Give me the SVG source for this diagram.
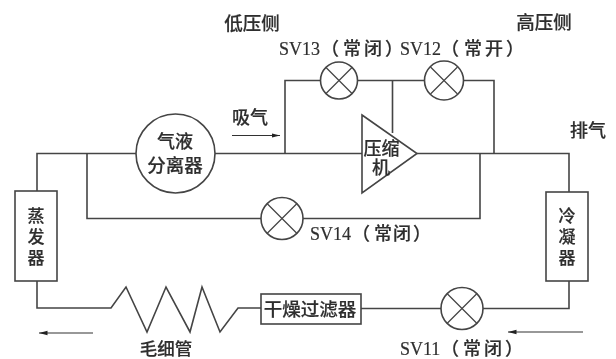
<svg xmlns="http://www.w3.org/2000/svg" width="616" height="359" viewBox="0 0 616 359">
<style>
text{font-family:"Liberation Serif","Noto Sans CJK SC",serif;fill:#2e2e2e;font-size:18px;font-weight:500;stroke:#2e2e2e;stroke-width:0.2}
.c{font-family:"Noto Sans CJK SC","Liberation Serif",sans-serif;text-anchor:middle}
.v{font-family:"Noto Sans CJK SC",sans-serif;font-size:17px;writing-mode:vertical-rl;letter-spacing:4px}
.l{fill:none;stroke:#444;stroke-width:1.6;stroke-linejoin:miter}
.s{fill:#fff;stroke:#444;stroke-width:1.6}
.x{fill:none;stroke:#444;stroke-width:1.2}
.a{fill:none;stroke:#333;stroke-width:1.2}
</style>
<defs>
<marker id="h" markerWidth="10" markerHeight="7" refX="8.500" refY="3" orient="auto" markerUnits="userSpaceOnUse"><path d="M0 0.800L8.500 3L0 5.200Z" fill="#222"/></marker>
<filter id="b" x="-5%" y="-5%" width="110%" height="110%"><feGaussianBlur stdDeviation="0.45"/></filter>
</defs>
<rect width="616" height="359" fill="#fff"/>
<g filter="url(#b)">
<g id="connectors">
<path class="l" d="M37 191V153.500H136M215 153.500H362M417 153.500H569V192"/>
<path class="l" d="M37 281V308H111L126 287L147 332L166 287L190 332L202 287L220 332L238 308H261"/>
<path class="l" d="M361 308.500H441M483 308.500H569V281"/>
<path class="l" d="M87 153.500V218.500H261M303 218.500H480V153.500"/>
<path class="l" d="M285 153.500V80.500H320M358 80.500H424M464 80.500H494V153.500M392.500 80.500V133"/>
<path class="a" d="M232 135.500H280" marker-end="url(#h)"/>
<path class="a" d="M93 333H39" marker-end="url(#h)"/>
<path class="a" d="M583 332H508" marker-end="url(#h)"/>
</g>
<g id="evaporator"><rect class="s" x="15" y="191" width="42" height="90"/><text class="v" x="36" y="207">蒸发器</text></g>
<g id="separator"><circle class="s" cx="175.500" cy="153.500" r="39.500"/><text class="c" x="175" y="148">气液</text><text class="c" x="175" y="172" style="font-size:18.500px">分离器</text></g>
<g id="compressor"><path class="s" d="M362 115L417 153.500L362 193Z"/><text class="c" x="381.500" y="155">压缩<tspan x="381" dy="19">机</tspan></text></g>
<g id="sv13"><circle class="s" cx="339" cy="80.500" r="18.500"/><path class="x" d="M326 67.500L352 93.500M352 67.500L326 93.500"/></g>
<g id="sv12"><circle class="s" cx="444" cy="80.500" r="19.500"/><path class="x" d="M430.500 67L457.500 94M457.500 67L430.500 94"/></g>
<g id="sv14"><circle class="s" cx="282" cy="218.500" r="21"/><path class="x" d="M267 203.500L297 233.500M297 203.500L267 233.500"/></g>
<g id="sv11"><circle class="s" cx="462" cy="308.500" r="21"/><path class="x" d="M447 293.500L477 323.500M477 293.500L447 323.500"/></g>
<g id="filter"><rect class="s" x="261" y="294" width="100" height="30"/><text class="c" x="310" y="316" style="font-size:18.500px">干燥过滤器</text></g>
<g id="condenser"><rect class="s" x="546" y="192" width="42" height="89"/><text class="v" x="567" y="207">冷凝器</text></g>
<g id="labels">
<text class="c" x="252" y="30" style="font-size:18.500px">低压侧</text>
<text class="c" x="544" y="29" style="font-size:18.500px">高压侧</text>
<text class="c" x="250" y="124">吸气</text>
<text class="c" x="588" y="137">排气</text>
<text x="279" y="55">SV13<tspan x="321">（</tspan><tspan x="343">常</tspan><tspan x="364">闭</tspan><tspan x="385">）</tspan></text>
<text x="400" y="55">SV12<tspan x="441">（</tspan><tspan x="464">常</tspan><tspan x="485">开</tspan><tspan x="506">）</tspan></text>
<text x="310" y="240">SV14<tspan x="352">（</tspan><tspan x="374">常</tspan><tspan x="393">闭</tspan><tspan x="413">）</tspan></text>
<text x="400" y="355">SV11<tspan x="441">（</tspan><tspan x="463">常</tspan><tspan x="484">闭</tspan><tspan x="505">）</tspan></text>
<text class="c" x="166" y="355" style="font-size:17.500px">毛细管</text>
</g>
</g>
</svg>
